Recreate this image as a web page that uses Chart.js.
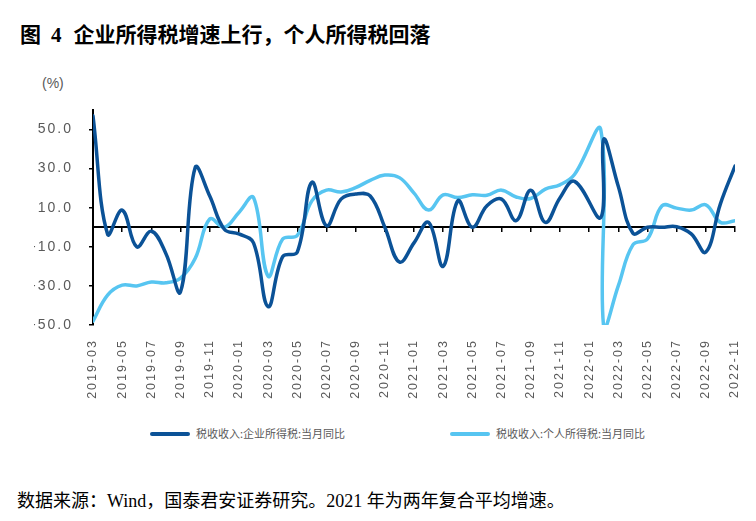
<!DOCTYPE html>
<html>
<head>
<meta charset="utf-8">
<script src="https://cdn.jsdelivr.net/npm/chart.js@4.4.1/dist/chart.umd.min.js"></script>
<style>
  html, body { margin: 0; padding: 0; background: #fff; }
  body { width: 756px; height: 521px; position: relative; overflow: hidden; }
  #title {
    position: absolute; left: 20px; top: 18px;
    font-family: "Liberation Serif", "Noto Sans CJK SC", serif;
    font-weight: bold; font-size: 21px; color: #000; white-space: nowrap;
  }
  #title .num { margin: 0 12px 0 10px; }
  #unit {
    position: absolute; left: 42px; top: 75px;
    font-family: "Liberation Sans", sans-serif; font-size: 14px; color: #595959;
  }
  #wrap { position: absolute; left: 0; top: 95px; width: 756px; height: 325px; }
  #legend {
    position: absolute; left: 0; top: 423px; width: 756px; height: 20px;
    font-family: "Noto Sans CJK SC", sans-serif; font-size: 11px; color: #595959;
  }
  #legend .item { position: absolute; top: 0; height: 20px; line-height: 20px; white-space: nowrap; }
  #legend .swatch {
    display: inline-block; width: 40px; height: 4px; border-radius: 2px;
    vertical-align: middle; margin-right: 6px; position: relative; top: -1px;
  }
  #note {
    position: absolute; left: 17px; top: 486px;
    font-family: "Liberation Serif", "Noto Sans CJK SC", serif;
    font-size: 18px; color: #000; white-space: nowrap;
  }
</style>
</head>
<body>
<div id="title">图<span class="num">4</span>企业所得税增速上行，个人所得税回落</div>
<div id="unit">(%)</div>
<div id="wrap"><canvas id="chart"></canvas></div>
<div id="legend"></div>
<div id="note">数据来源：Wind，国泰君安证券研究。2021 年为两年复合平均增速。</div>

<script>
// months shown on the axis, 2019-03 .. 2022-11
const monthLabels = [
  "2019-03", "2019-04", "2019-05", "2019-06", "2019-07", "2019-08", "2019-09", "2019-10", "2019-11", "2019-12",
  "2020-01", "2020-02", "2020-03", "2020-04", "2020-05", "2020-06", "2020-07", "2020-08", "2020-09", "2020-10", "2020-11", "2020-12",
  "2021-01", "2021-02", "2021-03", "2021-04", "2021-05", "2021-06", "2021-07", "2021-08", "2021-09", "2021-10", "2021-11", "2021-12",
  "2022-01", "2022-02", "2022-03", "2022-04", "2022-05", "2022-06", "2022-07", "2022-08", "2022-09", "2022-10", "2022-11",
];

// position of each data point, in months after 2019-03
// (the 2021 two-year series ends just before the 2022-02 point)
const xPos = [
  0, 1, 2, 3, 4, 5, 6, 7, 8, 9, 10, 11, 12, 13, 14, 15, 16, 17, 18, 19, 20, 21,
  22, 23, 24, 25, 26, 27, 28, 29, 30, 31, 32, 33, 34.8, 35, 36, 37, 38, 39, 40, 41, 42, 43, 44,
];

const corpTax = [
  57, -3.5, 8.8, -10, -2, -13.5, -33, 30.5, 16, -1, -3.4, -8, -40.6, -15, -12.7, 23, 0.8, 14.4, 17, 16, 0, -17.8,
  -8, 2.5, -20, 13.5, 0, 11, 14.4, 3.4, 19, 2.5, 15, 23.5, 5, 45, 21, -3, 0, 0, 0.3, -3.4, -12.7, 12, 31.3,
];

const personalTax = [
  -48, -34.7, -29.6, -30, -28, -28.4, -26, -16, 4.2, 0, 7.6, 15.2, -25, -6, -4.2, 13.5, 19, 18, 20.3, 24, 26.7, 25.4,
  17.5, 8.8, 16.6, 15.2, 16.6, 16.4, 19, 15.5, 14.7, 19.5, 21.7, 27, 50, -51, -30, -9, -6, 11, 9.8, 8.8, 11.5, 2.5, 3.4,
];

const seriesNames = ["税收收入:企业所得税:当月同比", "税收收入:个人所得税:当月同比"];
const yTicks = [-50, -30, -10, 10, 30, 50];
const xTicks = [0, 2, 4, 6, 8, 10, 12, 14, 16, 18, 20, 22, 24, 26, 28, 30, 32, 34, 36, 38, 40, 42, 44];

const COLORS = {
  dark: "#0B5297",
  light: "#57C5F1",
  text: "#595959",
  axis: "#000000",
};

function toPoints(values) {
  return values.map((v, i) => ({ x: xPos[i], y: v }));
}

// the tick labels in the source are spaced out a little
const spacedText = {
  id: "spacedText",
  beforeDraw(chart) {
    chart.ctx.letterSpacing = "2px";
  },
  afterDraw(chart) {
    chart.ctx.letterSpacing = "0px";
  },
};

const tickFont = { family: "'Liberation Sans', Arial, sans-serif", size: 14 };

const chart = new Chart(document.getElementById("chart"), {
  type: "line",
  data: {
    datasets: [
      {
        label: seriesNames[0],
        data: toPoints(corpTax),
        borderColor: COLORS.dark,
        backgroundColor: COLORS.dark,
        borderWidth: 3.5,
        borderCapStyle: "round",
        pointRadius: 0,
        tension: 0.4,
      },
      {
        label: seriesNames[1],
        data: toPoints(personalTax),
        borderColor: COLORS.light,
        backgroundColor: COLORS.light,
        borderWidth: 3.5,
        borderCapStyle: "round",
        pointRadius: 0,
        tension: 0.4,
      },
    ],
  },
  plugins: [spacedText],
  options: {
    responsive: true,
    maintainAspectRatio: false,
    animation: false,
    layout: { padding: { top: 15, left: 34, right: 21, bottom: 0 } },
    plugins: {
      tooltip: { enabled: false },
      legend: { display: false },
    },
    scales: {
      x: {
        type: "linear",
        min: 0,
        max: 44,
        afterBuildTicks: (scale) => {
          scale.ticks = xTicks.map((v) => ({ value: v }));
        },
        afterFit: (scale) => {
          scale.height = 95;
          scale.paddingLeft = 0;
          scale.paddingRight = 0;
        },
        grid: { display: false },
        border: { display: false },
        ticks: {
          autoSkip: false,
          minRotation: 90,
          maxRotation: 90,
          padding: 6,
          color: COLORS.text,
          font: { family: tickFont.family, size: 12.5 },
          callback: (value) => monthLabels[value],
        },
      },
      zero: {
        type: "linear",
        axis: "x",
        position: { y: 0 },
        min: 0,
        max: 44,
        afterBuildTicks: (scale) => {
          scale.ticks = xTicks.map((v) => ({ value: v }));
        },
        grid: {
          drawOnChartArea: false,
          drawTicks: true,
          tickLength: 4,
          color: COLORS.axis,
          lineWidth: 1.5,
        },
        border: { display: true, color: COLORS.axis, width: 2 },
        ticks: { display: false },
      },
      y: {
        type: "linear",
        min: -50,
        max: 60,
        afterBuildTicks: (scale) => {
          scale.ticks = yTicks.map((v) => ({ value: v }));
        },
        afterFit: (scale) => {
          scale.width = 59;
          scale.paddingTop = 0;
          scale.paddingBottom = 0;
        },
        grid: {
          drawOnChartArea: false,
          drawTicks: true,
          tickLength: 4,
          color: COLORS.axis,
          lineWidth: 1.5,
        },
        border: { display: true, color: COLORS.axis, width: 2 },
        ticks: {
          padding: 16,
          color: COLORS.text,
          font: tickFont,
          callback: (value) => value.toFixed(1),
        },
      },
    },
  },
});

// legend built from the chart's own datasets
const legendBox = document.getElementById("legend");
const legendLeft = [150, 450];
chart.data.datasets.forEach((ds, i) => {
  const item = document.createElement("div");
  item.className = "item";
  item.style.left = legendLeft[i] + "px";
  const sw = document.createElement("span");
  sw.className = "swatch";
  sw.style.background = ds.borderColor;
  item.appendChild(sw);
  item.appendChild(document.createTextNode(ds.label));
  legendBox.appendChild(item);
});
</script>
</body>
</html>
